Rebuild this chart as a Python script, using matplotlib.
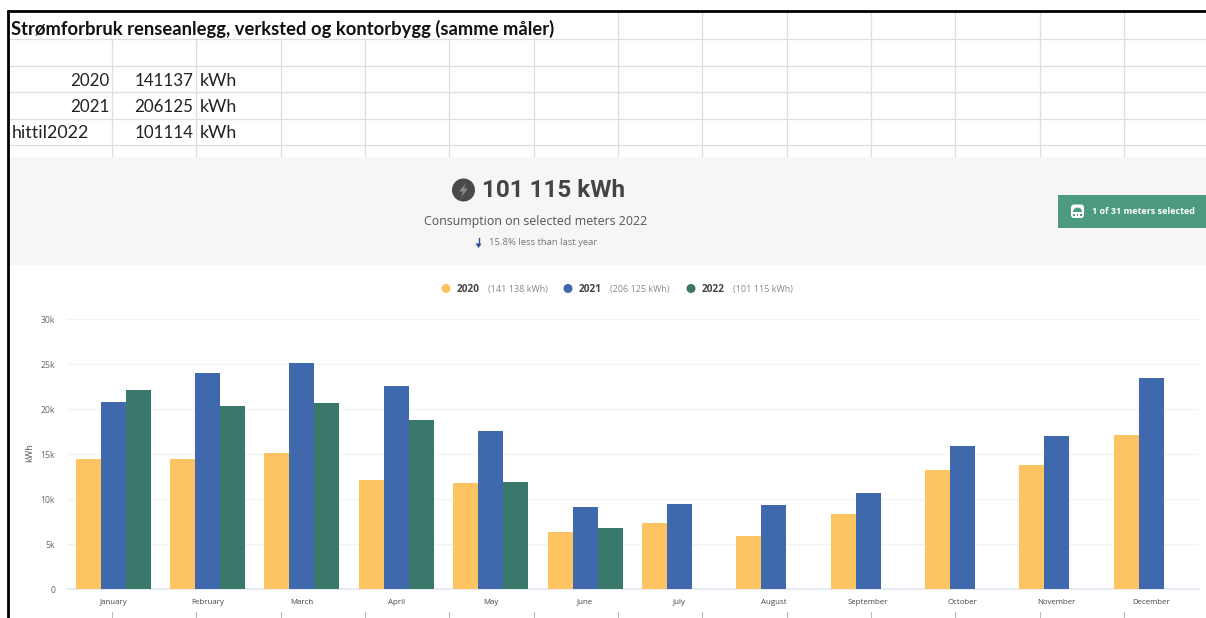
import matplotlib
matplotlib.use("Agg")
import matplotlib.pyplot as plt
from matplotlib.patches import Rectangle, Circle, Polygon, FancyBboxPatch, Wedge
from matplotlib.transforms import ScaledTranslation
import numpy as np

W, H = 1206, 618

months = ["January", "February", "March", "April", "May", "June", "July",
          "August", "September", "October", "November", "December"]
kwh_2020 = [14450, 14450, 15100, 12100, 11800, 6350, 7350, 5900, 8300, 13200, 13800, 17100]
kwh_2021 = [20800, 24000, 25100, 22550, 17600, 9100, 9450, 9350, 10650, 15900, 17000, 23450]
kwh_2022 = [22100, 20300, 20650, 18800, 11900, 6800]
year_labels = ["2020", "2021", "2022"]
year_totals = ["(141 138 kWh)", "(206 125 kWh)", "(101 115 kWh)"]
sheet_rows = [("2020", "141137", "kWh"), ("2021", "206125", "kWh"), ("hittil2022", "101114", "kWh")]
y_ticks = [0, 5000, 10000, 15000, 20000, 25000, 30000]
y_tick_labels = ["0", "5k", "10k", "15k", "20k", "25k", "30k"]

C_2020, C_2021, C_2022 = "#FEC461", "#4069AD", "#39786A"
BADGE = "#4C9A82"
SHEET_FONT = "Lato"
APP_FONT = "Open Sans"
HEAD_FONT = "Roboto"

fig = plt.figure(figsize=(W / 100, H / 100), dpi=100, facecolor="white")

# Full-canvas layer in pixel units for the spreadsheet and the header band
bg = fig.add_axes([0, 0, 1, 1])
bg.set_xlim(0, W)
bg.set_ylim(H, 0)
bg.axis("off")

# Spreadsheet grid
grid_c = "#DEDEDE"
col_x = [112, 196, 281, 365, 449, 534, 618, 702, 787, 871, 955, 1040, 1124]
for y in [39, 66, 92, 119, 145]:
    bg.plot([8, W], [y, y], color=grid_c, lw=0.9, zorder=1)
for x in col_x:
    top = 39 if x < 618 else 12
    bg.plot([x, x], [top, 158], color=grid_c, lw=0.9, zorder=1)
    bg.plot([x, x], [612, 618], color="#BBBBBB", lw=0.8, zorder=1)

# Black frame along the top and left edges
bg.plot([7, W], [11, 11], color="black", lw=2.0, zorder=5, solid_capstyle="butt")
bg.plot([8, 8], [10, H], color="black", lw=2.0, zorder=5, solid_capstyle="butt")

bg.text(11, 28.5, "Strømforbruk renseanlegg, verksted og kontorbygg (samme måler)",
        fontsize=13.2, fontweight="bold", family=SHEET_FONT, color="#111111",
        va="center", ha="left", zorder=3)

for y, (year, total, unit) in zip([80.5, 106.5, 133.5], sheet_rows):
    if year.startswith("hittil"):
        bg.text(12, y, year, fontsize=12.9, family=SHEET_FONT, color="#222222", va="center", ha="left")
    else:
        bg.text(109.5, y, year, fontsize=12.2, family=SHEET_FONT, color="#222222", va="center", ha="right")
    bg.text(193.5, y, total, fontsize=12.2, family=SHEET_FONT, color="#222222", va="center", ha="right")
    bg.text(200, y, unit, fontsize=12.8, family=SHEET_FONT, color="#222222", va="center", ha="left")

# Summary band
bg.add_patch(Rectangle((9, 157), W - 9, 108, facecolor="#F6F6F6", edgecolor="none", zorder=2))

bg.add_patch(Circle((463.5, 190), 11.5, facecolor="#4A4A4A", edgecolor="none", zorder=3))
bg.add_patch(Polygon([(466, 183), (459, 191.5), (463, 191.5), (461, 197.5), (468, 188.5), (464, 188.5)],
                     closed=True, facecolor="#8A8A8A", edgecolor="none", zorder=4))
bg.text(482, 190.5, "101 115 kWh", fontsize=17.5, fontweight="bold", family=HEAD_FONT,
        color="#444444", va="center", ha="left", zorder=4)
bg.text(535.5, 221, "Consumption on selected meters 2022", fontsize=8.9, family=APP_FONT,
        color="#555555", va="center", ha="center", zorder=4)

# Down arrow beside the year-on-year note
bg.plot([478.5, 478.5], [238, 245], color="#2F4F94", lw=1.0, zorder=4)
bg.add_patch(Polygon([(475.5, 243.5), (481.5, 243.5), (478.5, 248)], closed=True,
                     facecolor="#2F4F94", edgecolor="none", zorder=4))
bg.text(489, 242.5, "15.8% less than last year", fontsize=6.8, family=APP_FONT,
        color="#777777", va="center", ha="left", zorder=4)

# Selected meters badge with a small meter glyph
bg.add_patch(Rectangle((1058, 195), W - 1058, 33, facecolor=BADGE, edgecolor="none", zorder=3))
bg.add_patch(FancyBboxPatch((1071, 204.5), 13, 13.5, boxstyle="round,pad=0,rounding_size=3",
                            facecolor="white", edgecolor="none", zorder=4))
bg.add_patch(Wedge((1077.5, 212), 4.5, 180, 360, facecolor=BADGE, edgecolor="none", zorder=5))
for dot_x in [1074, 1077.5, 1081]:
    bg.add_patch(Rectangle((dot_x - 0.8, 214), 1.6, 2, facecolor=BADGE, edgecolor="none", zorder=5))
bg.text(1092, 212, "1 of 31 meters selected", fontsize=6.5, fontweight="bold", family=APP_FONT,
        color="white", va="center", ha="left", zorder=4)

# Legend row, positioned in pixels
for cx, tx, vx, c, yr, tot in zip([446, 568, 691], [457, 579, 702], [488, 610, 733],
                                  [C_2020, C_2021, C_2022], year_labels, year_totals):
    bg.add_patch(Circle((cx, 288.5), 4.5, facecolor=c, edgecolor="none", zorder=3))
    bg.text(tx, 289.5, yr, fontsize=7.2, fontweight="bold", family=APP_FONT, color="#444444",
            va="center", ha="left")
    bg.text(vx, 289.5, tot, fontsize=6.5, family=APP_FONT, color="#888888", va="center", ha="left")

# Monthly bar chart: 67..1199 px wide, 0 at y=589 and 30k at y=319
left, right, base, top = 67, 1199, 589, 319
ax = fig.add_axes([left / W, 1 - base / H, (right - left) / W, (base - top) / H])
ax.patch.set_alpha(0)
ax.set_xlim(-0.49, 11.507)
ax.set_ylim(0, 30000)

bw = 0.265
xs = np.arange(len(months))
ax.bar(xs - bw, kwh_2020, bw, color=C_2020, zorder=3)
ax.bar(xs, kwh_2021, bw, color=C_2021, zorder=3)
ax.bar(xs[:len(kwh_2022)] + bw, kwh_2022, bw, color=C_2022, zorder=3)

for s in ["top", "right", "left"]:
    ax.spines[s].set_visible(False)
ax.spines["bottom"].set_color("#E3E8F3")
ax.spines["bottom"].set_linewidth(1.2)
ax.set_yticks(y_ticks, y_tick_labels)
ax.set_xticks(xs, months)
ax.grid(axis="y", color="#F3F3F3", lw=1.0, zorder=0)
ax.set_axisbelow(True)
ax.tick_params(axis="both", length=0)
ax.tick_params(axis="y", pad=8.5, labelsize=6.2, labelcolor="#666666")
ax.tick_params(axis="x", pad=5, labelsize=5.7, labelcolor="#444444")
for lab in ax.get_xticklabels():
    lab.set_family(APP_FONT)
    lab.set_verticalalignment("baseline")
    lab.set_y(-0.028)
nudge = ScaledTranslation(0, -1.5 / 100, fig.dpi_scale_trans)
for lab in ax.get_yticklabels():
    lab.set_family(APP_FONT)
    lab.set_verticalalignment("center")
    lab.set_transform(lab.get_transform() + nudge)
bg.text(30, 453, "kWh", rotation=90, fontsize=6.6, family=APP_FONT, color="#555555",
        va="center", ha="center")

fig.savefig("out.png", dpi=100)
